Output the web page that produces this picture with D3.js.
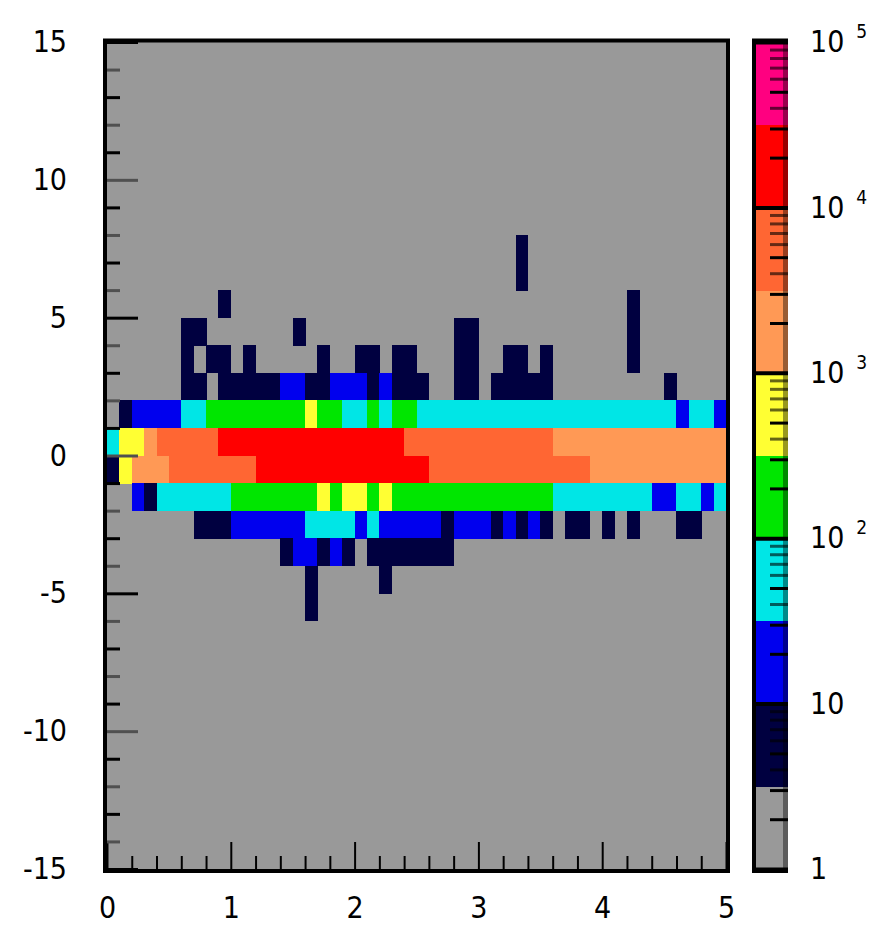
<!DOCTYPE html>
<html>
<head>
<meta charset="utf-8">
<script src="https://cdn.jsdelivr.net/npm/d3@7/dist/d3.min.js"></script>
<style>
  html, body { margin: 0; padding: 0; background: #ffffff; }
  svg { display: block; }
  text { font-family: "Liberation Sans Narrow", "DejaVu Sans Condensed", "Arial Narrow", sans-serif; fill: #000; }
</style>
</head>
<body>
<svg id="chart" width="884" height="930"></svg>
<script>
// ---- Histogram binning ----
const xRange = [0, 5];
const xBinCount = 50;          // bins of 0.1
const yRange = [-15, 15];      // bins of 1

// ---- Bin contents, one array per y row (row label = lower edge of the y bin) ----
const counts_y7  = [0,0,0,0,0,0,0,0,0,0, 0,0,0,0,0,0,0,0,0,0, 0,0,0,0,0,0,0,0,0,0, 0,0,0,5,0,0,0,0,0,0, 0,0,0,0,0,0,0,0,0,0];
const counts_y6  = [0,0,0,0,0,0,0,0,0,0, 0,0,0,0,0,0,0,0,0,0, 0,0,0,0,0,0,0,0,0,0, 0,0,0,4,0,0,0,0,0,0, 0,0,0,0,0,0,0,0,0,0];
const counts_y5  = [0,0,0,0,0,0,0,0,0,4, 0,0,0,0,0,0,0,0,0,0, 0,0,0,0,0,0,0,0,0,0, 0,0,0,0,0,0,0,0,0,0, 0,0,5,0,0,0,0,0,0,0];
const counts_y4  = [0,0,0,0,0,0,6,5,0,0, 0,0,0,0,0,4,0,0,0,0, 0,0,0,0,0,0,0,0,6,5, 0,0,0,0,0,0,0,0,0,0, 0,0,7,0,0,0,0,0,0,0];
const counts_y3  = [0,0,0,0,0,0,5,0,7,6, 0,4,0,0,0,0,0,5,0,0, 8,6,0,7,5,0,0,0,8,7, 0,0,6,7,0,4,0,0,0,0, 0,0,6,0,0,0,0,0,0,0];
const counts_y2  = [0,0,0,0,0,0,7,6,0,5, 8,7,9,6,14,12,8,9,15,18, 13,9,11,8,7,5,0,0,9,8, 0,6,7,8,6,5,0,0,0,0, 0,0,0,0,0,4,0,0,0,0];
const counts_y1  = [0,7,18,22,25,28,45,70,120,160, 190,210,230,250,270,290,340,260,140,85,
                    90,110,95,120,105,80,75,70,65,60, 55,60,58,52,50,48,45,42,40,45,
                    38,40,36,42,35,33,25,35,33,20];
const counts_y0  = [60,450,700,1800,3600,4500,5500,6500,8000,10500,
                    12000,14000,16000,18000,20000,22000,23000,24000,22000,20000,
                    18000,15000,13000,11000,9500,9000,8500,8000,7500,7000,
                    6500,6000,5500,5000,4500,4000,3000,2800,2600,2500,
                    2400,2200,2100,2000,1900,1800,1700,1600,1500,1400];
const counts_ym1 = [6,500,1200,2000,2900,3500,4500,5500,6500,7500,
                    8500,9500,11000,13000,15000,17000,19000,21000,22000,21000,
                    20000,18000,16000,14000,12000,10500,9500,9000,8000,7500,
                    7000,6500,6000,5500,5000,4500,4000,3600,3300,3000,
                    2800,2600,2400,2200,2000,1900,1800,1600,1500,1400];
const counts_ym2 = [0,0,15,8,35,45,55,65,75,90, 110,140,170,200,230,260,290,330,300,350,
                    360,300,330,290,270,250,230,210,190,170, 160,150,140,130,120,105,90,80,70,65,
                    60,55,50,45,30,25,40,35,28,34];
const counts_ym3 = [0,0,0,0,0,0,0,5,7,9, 12,14,17,20,24,28,35,45,50,40,
                    30,38,28,25,22,18,15,9,14,12, 11,8,10,7,10,6,0,5,6,0,
                    5,0,4,0,0,0,5,4,0,0];
const counts_ym4 = [0,0,0,0,0,0,0,0,0,0, 0,0,0,0,5,11,13,9,12,8, 0,7,8,9,8,7,6,5,0,0, 0,0,0,0,0,0,0,0,0,0, 0,0,0,0,0,0,0,0,0,0];
const counts_ym5 = [0,0,0,0,0,0,0,0,0,0, 0,0,0,0,0,0,6,0,0,0, 0,0,5,0,0,0,0,0,0,0, 0,0,0,0,0,0,0,0,0,0, 0,0,0,0,0,0,0,0,0,0];
const counts_ym6 = [0,0,0,0,0,0,0,0,0,0, 0,0,0,0,0,0,4,0,0,0, 0,0,0,0,0,0,0,0,0,0, 0,0,0,0,0,0,0,0,0,0, 0,0,0,0,0,0,0,0,0,0];

const rowLowEdges = [7, 6, 5, 4, 3, 2, 1, 0, -1, -2, -3, -4, -5, -6];
const rowCounts = [counts_y7, counts_y6, counts_y5, counts_y4, counts_y3, counts_y2, counts_y1,
                   counts_y0, counts_ym1, counts_ym2, counts_ym3, counts_ym4, counts_ym5, counts_ym6];

// ---- Colour axis (log z, 10 contour levels) ----
const zRange = [1, 1e5];
const paletteColors = ["#999999", "#000040", "#0000ee", "#00e6e6", "#00e600",
                       "#ffff33", "#ff9955", "#ff6633", "#ff0000", "#ff0080"];
const xTickLabels = [0, 1, 2, 3, 4, 5];
const yTickLabels = [-15, -10, -5, 0, 5, 10, 15];
const zTickExponents = [0, 1, 2, 3, 4, 5];

// ---- Layout ----
const frame = { left: 107, right: 726, top: 42, bottom: 869 };
const bar = { left: 756, right: 788, top: 42, bottom: 869 };

const svg = d3.select("#chart");

const x = d3.scaleLinear().domain(xRange).range([frame.left, frame.right]);
const y = d3.scaleLinear().domain(yRange).range([frame.bottom, frame.top]);
const z = d3.scaleLog().domain(zRange).range([bar.bottom, bar.top]);

const nLevels = paletteColors.length;
const logMin = Math.log10(zRange[0]), logMax = Math.log10(zRange[1]);
const levels = d3.range(nLevels + 1).map(i => Math.pow(10, logMin + (logMax - logMin) * i / nLevels));
const color = d3.scaleThreshold().domain(levels.slice(1, -1)).range(paletteColors);

// plot background
svg.append("rect")
  .attr("x", frame.left).attr("y", frame.top)
  .attr("width", frame.right - frame.left).attr("height", frame.bottom - frame.top)
  .attr("fill", "#999999");

// cells
const binW = (xRange[1] - xRange[0]) / xBinCount;
const cells = [];
rowLowEdges.forEach((y0, r) => {
  rowCounts[r].forEach((c, i) => {
    if (c > 0) cells.push({ x0: xRange[0] + i * binW, x1: xRange[0] + (i + 1) * binW, y0, y1: y0 + 1, c });
  });
});

svg.append("g").attr("shape-rendering", "crispEdges")
  .selectAll("rect").data(cells).join("rect")
  .attr("x", d => x(d.x0))
  .attr("y", d => y(d.y1))
  .attr("width", d => x(d.x1) - x(d.x0) + 0.5)
  .attr("height", d => y(d.y0) - y(d.y1) + 0.5)
  .attr("fill", d => color(d.c));

// x axis: minor ticks every 0.2, labelled major ticks every 1
const xMinor = d3.range(1, 25).map(k => k / 5).filter(v => Math.abs(v - Math.round(v)) > 1e-9);
svg.append("g").attr("transform", `translate(0,${frame.bottom})`)
  .call(d3.axisBottom(x).tickValues(xMinor).tickSizeInner(-13).tickSizeOuter(0).tickFormat(""))
  .call(g => g.select(".domain").remove())
  .call(g => g.selectAll(".tick line").attr("stroke", "#000").attr("stroke-width", 2));
svg.append("g").attr("transform", `translate(0,${frame.bottom})`)
  .call(d3.axisBottom(x).tickValues(xTickLabels).tickSizeInner(-27).tickSizeOuter(0)
        .tickPadding(28).tickFormat(d => String(d)))
  .call(g => g.select(".domain").remove())
  .call(g => g.selectAll(".tick line").attr("stroke", "#000").attr("stroke-width", 2))
  .call(g => g.selectAll(".tick text").attr("font-size", 30).attr("fill", "#000")
        .attr("font-family", "'Liberation Sans Narrow', 'DejaVu Sans Condensed', sans-serif"));

// y axis: minor ticks every 1, labelled major ticks every 5
const yMinor = d3.range(-14, 15).filter(v => v % 5 !== 0);
svg.append("g").attr("transform", `translate(${frame.left},0)`)
  .call(d3.axisLeft(y).tickValues(yMinor).tickSizeInner(-13).tickSizeOuter(0).tickFormat(""))
  .call(g => g.select(".domain").remove())
  .call(g => g.selectAll(".tick line").attr("stroke", d => (Math.abs(d) % 2 === 1 ? "#000" : "#505050"))
        .attr("stroke-width", 3));
svg.append("g").attr("transform", `translate(${frame.left},0)`)
  .call(d3.axisLeft(y).tickValues(yTickLabels).tickSizeInner(-31).tickSizeOuter(0)
        .tickPadding(40).tickFormat(d => String(d)))
  .call(g => g.select(".domain").remove())
  .call(g => g.selectAll(".tick line").attr("stroke", d => (Math.abs(d) % 2 === 1 ? "#000" : "#505050"))
        .attr("stroke-width", 3))
  .call(g => g.selectAll(".tick text").attr("font-size", 30).attr("fill", "#000")
        .attr("font-family", "'Liberation Sans Narrow', 'DejaVu Sans Condensed', sans-serif"));

// frame
svg.append("rect")
  .attr("x", frame.left - 2).attr("y", frame.top - 1.5)
  .attr("width", frame.right - frame.left + 4).attr("height", frame.bottom - frame.top + 3.5)
  .attr("fill", "none").attr("stroke", "#000").attr("stroke-width", 4);

// ---- Colour bar ----
const barG = svg.append("g");
barG.append("g").attr("shape-rendering", "crispEdges")
  .selectAll("rect").data(d3.range(nLevels)).join("rect")
  .attr("x", bar.left)
  .attr("width", bar.right - bar.left)
  .attr("y", i => z(levels[i + 1]))
  .attr("height", i => z(levels[i]) - z(levels[i + 1]) + 0.5)
  .attr("fill", i => paletteColors[i]);
// darker right edge of the bar
barG.append("rect")
  .attr("x", bar.right - 5).attr("y", bar.top).attr("width", 5).attr("height", bar.bottom - bar.top)
  .attr("fill", "#000").attr("opacity", 0.4);

// minor log ticks on the bar
const zMinor = [];
zTickExponents.slice(0, -1).forEach(e => d3.range(2, 10).forEach(k => zMinor.push(k * Math.pow(10, e))));
barG.append("g").attr("transform", `translate(${bar.right},0)`)
  .call(d3.axisRight(z).tickValues(zMinor).tickSizeInner(-18).tickSizeOuter(0).tickFormat(""))
  .call(g => g.select(".domain").remove())
  .call(g => g.selectAll(".tick line").attr("stroke", "#000").attr("stroke-width", 3)
        .attr("opacity", d => { const k = Math.round(d / Math.pow(10, Math.floor(Math.log10(d) + 1e-9))); return (k === 2 || k === 3 || k === 5) ? 1 : 0.6; }));

// decade ticks and labels
const zMajor = zTickExponents.map(e => Math.pow(10, e));
const zAxis = barG.append("g").attr("transform", `translate(${bar.right},0)`)
  .call(d3.axisRight(z).tickValues(zMajor).tickSizeInner(-(bar.right - bar.left + 4)).tickSizeOuter(0)
        .tickPadding(22).tickFormat(""))
  .call(g => g.select(".domain").remove())
  .call(g => g.selectAll(".tick line").attr("stroke", "#000").attr("stroke-width", 4));
zAxis.selectAll(".tick text")
  .attr("font-size", 30).attr("fill", "#000")
  .attr("font-family", "'Liberation Sans Narrow', 'DejaVu Sans Condensed', sans-serif")
  .each(function (d) {
    const t = d3.select(this);
    const e = Math.round(Math.log10(d));
    if (e === 0) { t.text("1"); return; }
    t.append("tspan").text("10");
    if (e > 1) {
      t.append("tspan").attr("font-size", 19).attr("dx", 12).attr("dy", -14).text(String(e));
    }
  });

// bar border (left, top, bottom)
barG.append("path")
  .attr("d", `M${bar.right},${bar.top - 1.5} H${bar.left - 2} V${bar.bottom + 2} H${bar.right}`)
  .attr("fill", "none").attr("stroke", "#000").attr("stroke-width", 4);
</script>
</body>
</html>
